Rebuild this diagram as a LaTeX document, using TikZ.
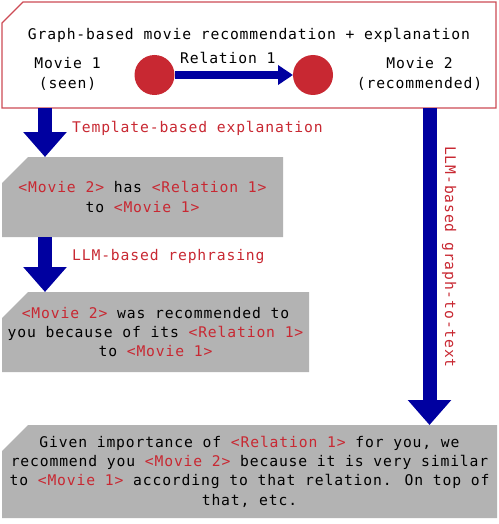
\documentclass[tikz,border=0pt]{standalone}
\usepackage{fontspec}
\setmainfont{DejaVu Sans Mono}[LetterSpace=5.8]
\usetikzlibrary{arrows.meta,backgrounds,positioning}
\definecolor{mvred}{RGB}{200,40,50}
\definecolor{boxred}{RGB}{205,75,85}
\definecolor{arrowblue}{RGB}{0,0,160}
\definecolor{panelgrey}{RGB}{179,179,179}
\newcommand{\mref}[1]{\textcolor{mvred}{#1}}
\newcommand{\cutpanel}[2]{% node name, corner cut
  ([yshift=-#2]#1.north west) -- ([xshift=#2]#1.north west) -- (#1.north east)
  -- (#1.south east) -- (#1.south west) -- cycle}
\tikzset{
  panel/.style={rectangle, inner sep=0pt, outer sep=0pt, align=center},
  movie/.style={circle, fill=mvred, minimum size=40pt, inner sep=0pt, outer sep=0pt},
  bigarrow/.style={draw=arrowblue, line width=14pt, -{Triangle[width=42pt,length=25pt]}},
  redlabel/.style={text=mvred, inner sep=0pt}
}
\begin{document}
\begin{tikzpicture}[x=1pt,y=-1pt,font=\fontsize{14.7}{19.3}\selectfont]
 \useasboundingbox (0,0) rectangle (498,524);
 % top panel with the graph
 \node[panel, minimum width=494pt, minimum height=106pt] (top) at (249,55) {};
 \node (title) at (249,35) {Graph-based movie recommendation + explanation};
 \node[movie] (m1) at (154.5,75) {};
 \node[movie] (m2) at (313,75) {};
 \node[align=center, inner sep=0pt] (m1txt) at (67.5,74) {Movie 1\\(seen)};
 \node[align=center, inner sep=0pt] (m2txt) at (419.5,74) {Movie 2\\(recommended)};
 \draw[draw=arrowblue, line width=8pt, -{Triangle[width=19pt,length=15pt]}] (m1) -- (m2)
   node[pos=0.45, above=7pt, inner sep=0pt] (rel) {Relation 1};
 % text panels
 \node[panel, minimum width=281pt, minimum height=80pt] (tmpl) at (142.5,197)
   {\mref{<Movie 2>} has \mref{<Relation 1>}\\to \mref{<Movie 1>}};
 \node[panel, minimum width=307pt, minimum height=80pt] (reph) at (155.5,332)
   {\mref{<Movie 2>} was recommended to\\you because of its \mref{<Relation 1>}\\to \mref{<Movie 1>}};
 \node[panel, minimum width=495pt, minimum height=93pt] (llm) at (249.5,471.5)
   {Given importance of \mref{<Relation 1>} for you, we\\recommend you \mref{<Movie 2>} because it is very similar\\to \mref{<Movie 1>} according to that relation. On top of\\that, etc.};
 \begin{scope}[on background layer]
  \draw[boxred, fill=white, line width=1.3pt] \cutpanel{top}{21pt};
  \fill[panelgrey] \cutpanel{tmpl}{26pt};
  \fill[panelgrey] \cutpanel{reph}{26pt};
  \fill[panelgrey] \cutpanel{llm}{26pt};
 \end{scope}
 % arrows between the steps
 \draw[bigarrow] (top.south -| 45,0) -- (tmpl.north -| 45,0);
 \draw[bigarrow] (tmpl.south -| 45,0) -- (reph.north -| 45,0);
 \draw[bigarrow] (top.south -| 429.5,0) -- (llm.north -| 429.5,0);
 \node[redlabel, anchor=west] (l1) at (72,128) {Template-based explanation};
 \node[redlabel, anchor=west] (l2) at (72,256) {LLM-based rephrasing};
 \node[redlabel, rotate=-90] (l3) at (449,257) {LLM-based graph-to-text};
\end{tikzpicture}
\end{document}
